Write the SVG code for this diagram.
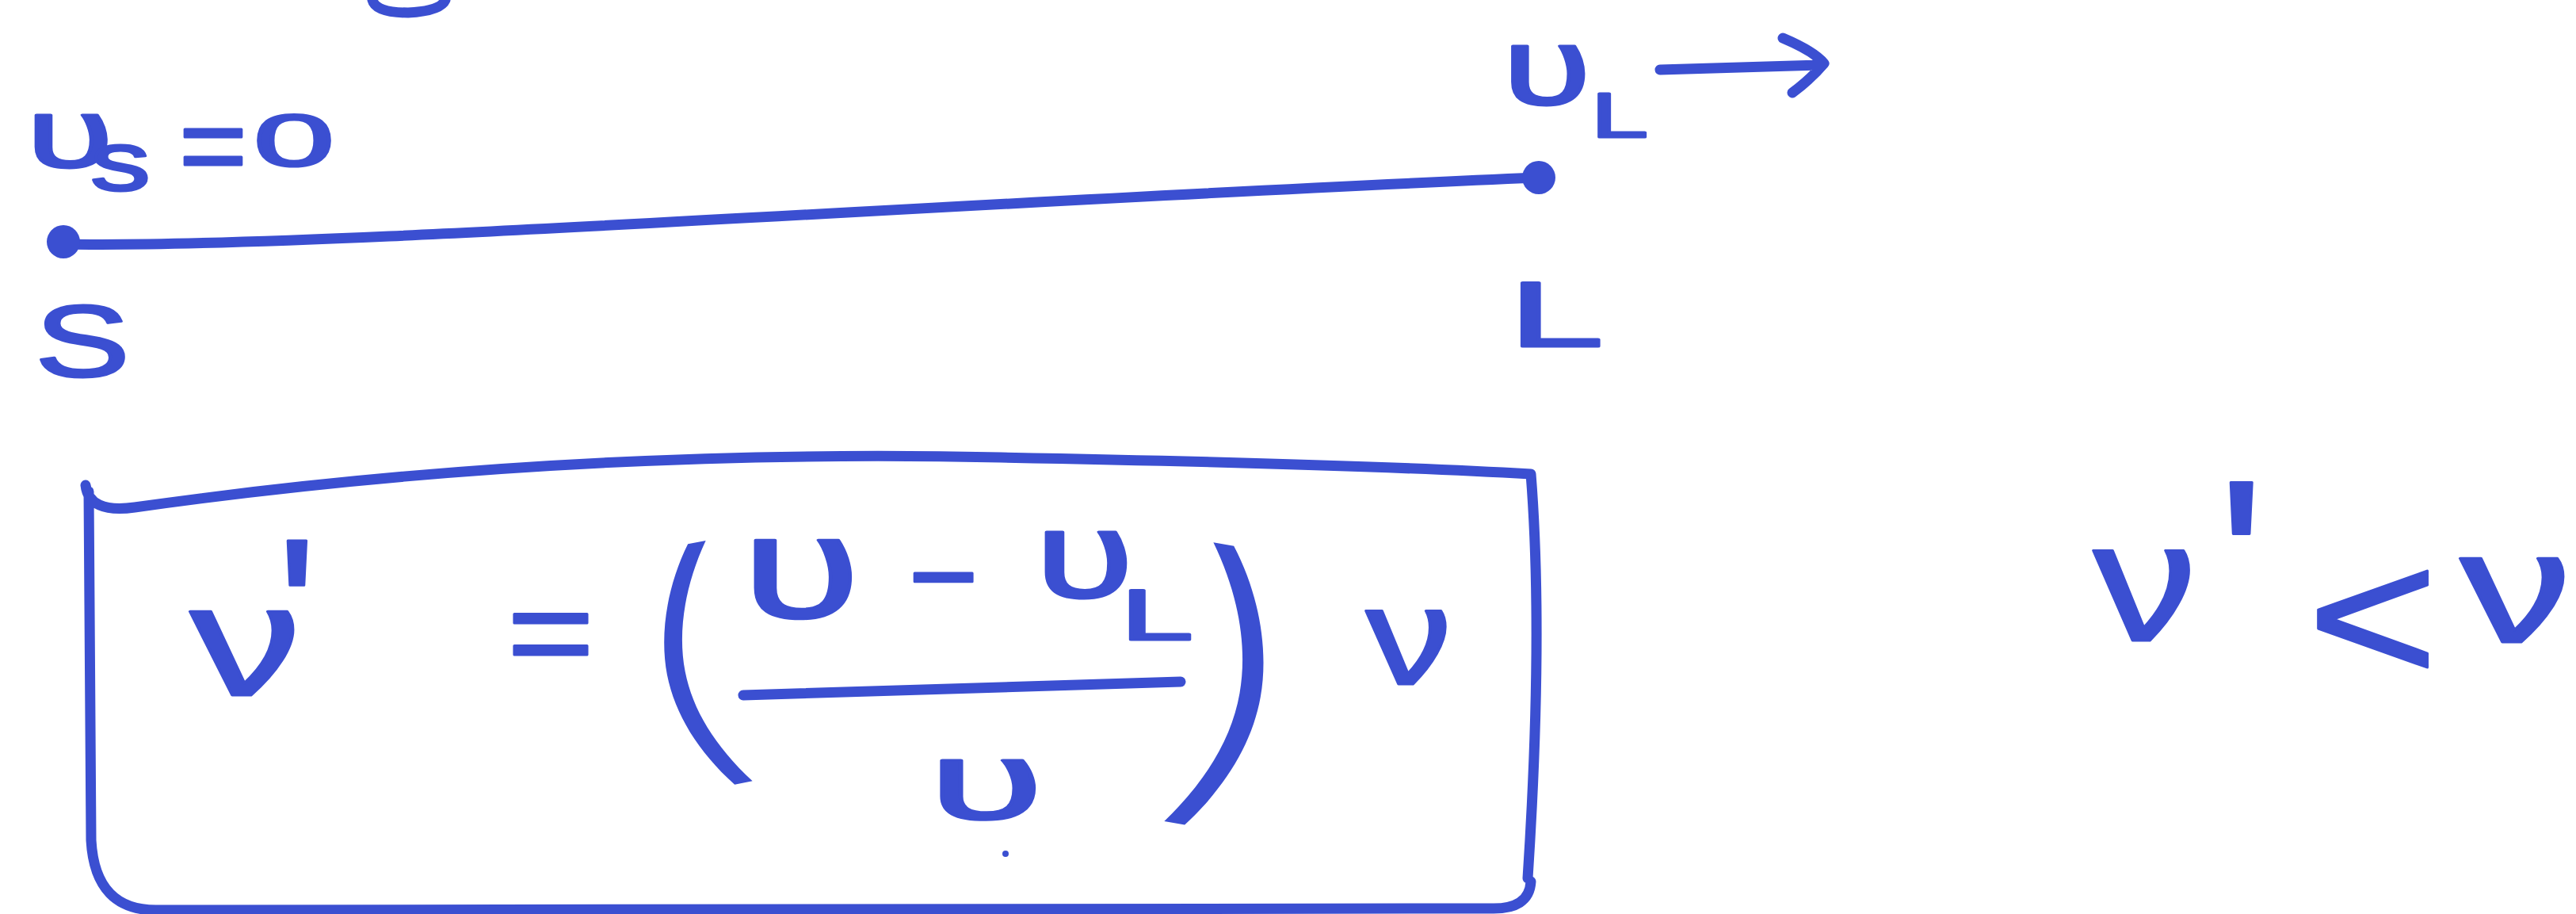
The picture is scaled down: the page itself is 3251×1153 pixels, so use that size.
<svg xmlns="http://www.w3.org/2000/svg" width="3251" height="1153" viewBox="0 0 3251 1153">
<style>
.ink{fill:#3b4fd1;stroke:#3b4fd1;stroke-width:3;stroke-linejoin:round;font-family:"Liberation Sans","DejaVu Sans",sans-serif}
.paren{fill:#3b4fd1;font-family:Inter,"Liberation Sans",sans-serif;font-weight:170;text-anchor:middle}
.st{fill:none;stroke:#3b4fd1;stroke-width:13;stroke-linecap:round;stroke-linejoin:round}
</style>
<rect width="3251" height="1153" fill="#ffffff"/>
<path class="st" d="M470,0 Q474,16 515,16 Q556,14 562,0"/>
<g id="connectors">
<path class="st" d="M80,308 C400,314 1200,255 1940,224"/>
</g>
<g id="source">
<circle cx="80" cy="305" r="21" fill="#3b4fd1"/>
<text class="ink" x="33" y="211" font-size="125" textLength="110" lengthAdjust="spacingAndGlyphs">υ</text>
<text class="ink" x="114" y="240" font-size="106" textLength="76" lengthAdjust="spacingAndGlyphs">s</text>
<text class="ink" x="226" y="231" font-size="140" textLength="86" lengthAdjust="spacingAndGlyphs">=</text>
<text class="ink" x="320" y="209" font-size="92" textLength="102" lengthAdjust="spacingAndGlyphs">0</text>
<text class="ink" x="44" y="475" font-size="128" textLength="120" lengthAdjust="spacingAndGlyphs">S</text>
</g>
<g id="listener">
<circle cx="1942" cy="224" r="21" fill="#3b4fd1"/>
<text class="ink" x="1896" y="132" font-size="140" textLength="112" lengthAdjust="spacingAndGlyphs">υ</text>
<text class="ink" x="2008" y="173" font-size="80" textLength="72" lengthAdjust="spacingAndGlyphs">L</text>
<path class="st" d="M2095,88 L2297,82 M2250,48 Q2290,65 2302,80 Q2285,100 2262,117"/>
<text class="ink" x="1904" y="437" font-size="117" textLength="120" lengthAdjust="spacingAndGlyphs">L</text>
</g>
<g id="formula-box">
<path class="st" d="M108,612 Q112,648 170,640 Q700,565 1263,577 Q1700,585 1932,598 Q1948,800 1928,1108 M1932,1112 Q1930,1148 1880,1146 L200,1148 Q120,1150 115,1060 L112,620"/>
<text class="ink" x="240" y="877" font-size="200" textLength="140" lengthAdjust="spacingAndGlyphs">ν</text>
<text class="ink" x="350" y="861" font-size="260">'</text>
<text class="ink" x="640" y="853" font-size="160" textLength="110" lengthAdjust="spacingAndGlyphs">=</text>
<text class="paren" transform="translate(866,833) rotate(-11) scale(1.5,1)" x="0" y="119" font-size="340">(</text>
<text class="ink" x="936" y="779" font-size="185" textLength="150" lengthAdjust="spacingAndGlyphs">υ</text>
<text class="ink" x="1147" y="778" font-size="150">−</text>
<text class="ink" x="1306" y="753" font-size="155" textLength="125" lengthAdjust="spacingAndGlyphs">υ</text>
<text class="ink" x="1414" y="807" font-size="90" textLength="92" lengthAdjust="spacingAndGlyphs">L</text>
<path class="st" d="M938,877 Q1200,870 1490,860"/>
<text class="ink" x="1172" y="1033" font-size="140" textLength="145" lengthAdjust="spacingAndGlyphs">υ</text>
<text class="paren" transform="translate(1563,858) rotate(10) scale(1.5,1)" x="0" y="138" font-size="393">)</text>
<text class="ink" x="1724" y="863" font-size="175" textLength="108" lengthAdjust="spacingAndGlyphs">ν</text>
<circle cx="1269" cy="1077" r="4" fill="#3b4fd1"/>
</g>
<g id="inequality">
<text class="ink" x="2642" y="808" font-size="215" textLength="130" lengthAdjust="spacingAndGlyphs">ν</text>
<text class="ink" x="2800" y="815" font-size="300">'</text>
<text class="ink" x="2912" y="860" font-size="240" textLength="165" lengthAdjust="spacingAndGlyphs">&lt;</text>
<text class="ink" x="3105" y="810" font-size="200" textLength="140" lengthAdjust="spacingAndGlyphs">ν</text>
</g>
</svg>
